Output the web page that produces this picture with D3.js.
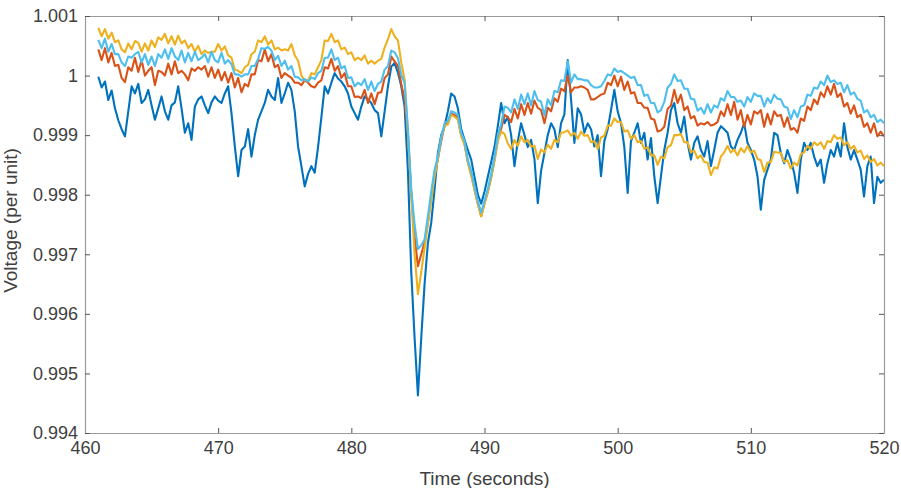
<!DOCTYPE html>
<html>
<head>
<meta charset="utf-8">
<script src="https://cdn.jsdelivr.net/npm/d3@7"></script>
<style>
  body { margin: 0; background: #fff; }
  text { font-family: "Liberation Sans", Arial, sans-serif; }
</style>
</head>
<body>
<svg id="voltage-chart"></svg>
<script>
////////////////////////////////////////////////////////////////////////////////
///////////////////////////////////////////////////////////////////// Chart data
////////////////////////////////////////////////////////////////////////////////

// samples every 0.25 s from 461 s to 520 s
const startTime = 461;
const sampleStep = 0.25;

// values are deviations from 1.0 pu, in units of 1e-5 pu (one group = one second)
const blueDev = [
  -2, -20, -10, -41,      -25, -55, -75, -90,     -102, -60, -18, -30,
  -14, -46, -40, -24,     -50, -74, -55, -35,     -60, -74, -50, -45,
  -18, -55, -96, -80,     -108, -52, -40, -35,    -50, -63, -45, -35,
  -42, -46, -30, -18,     -63, -119, -169, -125,  -119, -90, -136, -100,
  -74, -60, -46, -24,     -35, -41, -4, -46,      -30, -12, -24, -60,
  -119, -152, -186, -165, -152, -163, -120, -70,  -18, -30, -12, 4,
  -5, -10, -18, -30,      -52, -63, -74, -52,     -35, -40, -46, -58,
  -63, -102, -60, -18,    15, 21, 5, -18,         -52, -160, -330, -440,
  -537, -440, -350, -281, -247, -191, -130, -100, -85, -60, -30, -35,
  -55, -90, -108, -125,   -141, -170, -200, -215, -195, -170, -145, -120,
  -85, -46, -80, -69,     -100, -152, -110, -80,  -100, -120, -108, -140,
  -214, -160, -130, -100, -80, -90, -120, -80,    -65, 26, -40, -113,
  -55, -65, -96, -80,     -90, -119, -100, -169,  -110, -90, -58, -24,
  -60, -80, -120, -197,   -110, -96, -80, -113,   -96, -141, -105, -169,
  -214, -169, -125, -96,  -58, -46, -80, -96,     -69, -113, -141, -113,
  -102, -125, -136, -110, -152, -125, -96, -85,   -90, -96, -119, -125,
  -108, -96, -80, -113,   -125, -141, -169, -225, -175, -158, -141, -96,
  -100, -130, -147, -125, -141, -163, -197, -141, -113, -125, -113, -136,
  -152, -141, -180, -147, -125, -136, -113, -136, -80, -120, -141, -125,
  -141, -158, -203, -152, -136, -214, -170, -180, -175
];

const redDev = [
  44, 26, 46, 22,         38, 16, 18, -4,         -11, 14, 8, 30,
  6, 26, 0, 8,            14, -16, 8, 6,          0, 20, 2, 24,
  4, 8, 2, -8,            12, 8, 14, 10,          16, -2, 14, -4,
  10, -8, 6, -12,         4, -20, -4, -28,        -14, -18, 2, 2,
  26, 24, 44, 24,         36, 14, 18, -4,         4, 0, -4, -12,
  -12, -16, -8, -12,      -18, -20, -12, -8,      14, 12, 28, 8,
  16, -4, 4, -18,         -18, -36, -35, -38,     -24, -46, -30, -48,
  -29, -28, -4, 2,        32, 24, 16, -14,        -40, -100, -200, -270,
  -320, -300, -280, -245, -205, -165, -140, -110, -84, -80, -64, -66,
  -71, -100, -114, -145,  -165, -191, -215, -236, -214, -195, -170, -141,
  -106, -89, -66, -70,    -78, -56, -72, -48,     -66, -46, -64, -42,
  -54, -58, -80, -54,     -60, -38, -44, -22,     -26, 0, -28, -20,
  -20, -18, -20, -24,     -40, -40, -36, -32,     -30, -12, -16, 0,
  -18, -2, -24, -10,      -30, -28, -46, -46,     -54, -54, -72, -74,
  -94, -92, -86, -56,     -50, -24, -46, -32,     -58, -52, -72, -68,
  -84, -80, -82, -78,     -84, -82, -78, -60,     -68, -48, -66, -44,
  -74, -58, -86, -66,     -82, -60, -64, -58,     -86, -64, -82, -60,
  -68, -66, -86, -70,     -91, -88, -96, -72,     -76, -52, -58, -40,
  -48, -28, -36, -18,     -32, -14, -36, -30,     -52, -46, -64, -50,
  -70, -66, -86, -80,     -96, -80, -102, -94,    -102
];

const yellowDev = [
  80, 66, 78, 62,         72, 56, 59, 44,         39, 54, 44, 58,
  55, 40, 54, 42,         59, 48, 64, 60,         70, 54, 66, 52,
  67, 54, 59, 46,         53, 40, 50, 36,         42, 38, 40, 40,
  53, 42, 49, 34,         30, 10, 8, 4,           14, 18, 36, 40,
  59, 56, 66, 52,         59, 44, 47, 42,         44, 42, 53, 34,
  25, 0, -8, -8,          4, 2, 14, 26,           59, 58, 70, 56,
  59, 44, 47, 36,         39, 26, 30, 26,         34, 20, 25, 20,
  25, 28, 47, 61,         78, 66, 59, 22,         -7, -96, -200, -300,
  -367, -330, -290, -250, -210, -170, -140, -105, -84, -82, -66, -69,
  -74, -102, -116, -146,  -168, -192, -216, -236, -216, -196, -172, -144,
  -110, -94, -98, -114,   -123, -108, -118, -102, -112, -108, -119, -118,
  -140, -124, -129, -116, -123, -108, -112, -96,  -95, -92, -101, -96,
  -106, -94, -101, -100,  -112, -110, -123, -104, -101, -84, -84, -72,
  -78, -78, -94, -92,     -106, -100, -112, -110, -123, -120, -134, -134,
  -150, -136, -139, -120, -117, -100, -100, -98,  -112, -112, -129, -126,
  -139, -134, -145, -146, -167, -154, -156, -136, -129, -118, -129, -124,
  -134, -122, -129, -118, -129, -126, -140, -142, -162, -146, -145, -128,
  -129, -130, -145, -142, -156, -146, -151, -132, -129, -118, -123, -112,
  -117, -112, -123, -110, -112, -100, -106, -104, -117, -112, -123, -118,
  -129, -126, -140, -134, -145, -140, -151, -146, -152
];

const cyanDev = [
  60, 46, 62, 40,         53, 36, 36, 22,         16, 32, 30, 36,
  40, 22, 36, 18,         32, 16, 36, 30,         44, 28, 46, 32,
  26, 42, 22, 38,         24, 40, 26, 30,         36, 22, 40, 26,
  22, 38, 20, 26,         19, 2, 2, -2,           2, 2, 16, 16,
  28, 46, 45, 48,         42, 26, 33, 16,         25, 10, 16, -2,
  -3, -8, -6, -10,        -3, -6, 4, 8,           30, 30, 44, 26,
  30, 12, 16, -4,         -3, -18, -12, -16,      -6, -24, -10, -26,
  -14, -10, 10, 16,       42, 39, 29, 1,          -12, -90, -190, -250,
  -291, -285, -275, -236, -195, -158, -136, -105, -80, -76, -60, -62,
  -66, -96, -110, -142,   -160, -186, -210, -230, -210, -190, -165, -136,
  -100, -82, -52, -54,    -62, -40, -56, -32,     -48, -30, -50, -26,
  -41, -44, -67, -40,     -50, -26, -28, -8,      -9, 24, -12, 2,
  -6, -6, -8, -8,         -16, -20, -20, -18,     -9, 2, 0, 12,
  6, 8, 4, 0,             -4, -2, -16, -16,       -34, -32, -46, -46,
  -62, -58, -44, -20,     -14, 2, -9, -8,         -22, -22, -39, -40,
  -59, -54, -64, -48,     -62, -50, -54, -38,     -42, -26, -36, -36,
  -44, -42, -52, -36,     -44, -30, -34, -34,     -52, -38, -46, -32,
  -39, -40, -52, -54,     -73, -58, -70, -52,     -50, -32, -34, -20,
  -22, -10, -16, 0,       -11, -8, -14, -12,      -28, -16, -32, -28,
  -39, -42, -62, -58,     -70, -66, -78, -74,     -80
];

const seriesColors = ["#0072BD", "#D95319", "#EDB120", "#4DBEEE"];
const seriesDevs = [blueDev, redDev, yellowDev, cyanDev];

const xTicks = [460, 470, 480, 490, 500, 510, 520];
const yTicks = [0.994, 0.995, 0.996, 0.997, 0.998, 0.999, 1, 1.001];

////////////////////////////////////////////////////////////////////////////////
////////////////////////////////////////////////////////////////// Draw the plot
////////////////////////////////////////////////////////////////////////////////

const fullWidth = 901;
const fullHeight = 488;
const margin = { top: 16, right: 17, bottom: 55, left: 85 };
const width = fullWidth - margin.left - margin.right;
const height = fullHeight - margin.top - margin.bottom;

const svg = d3.select("#voltage-chart")
              .attr("width", fullWidth)
              .attr("height", fullHeight)
            .append("g")
              .attr("transform", `translate(${margin.left},${margin.top})`);

const xScale = d3.scaleLinear().domain([460, 520]).range([0, width]);
const yScale = d3.scaleLinear().domain([0.994, 1.001]).range([height, 0]);

// convert a stored deviation to per-unit voltage
function toPu(d) {
  return 1 + d * 1e-5;
}

// Lines
const line = d3.line()
               .x(function(d, i) { return xScale(startTime + i * sampleStep); })
               .y(function(d) { return yScale(toPu(d)); });

svg.selectAll(".line")
   .data(seriesDevs)
   .join("path")
     .attr("class", "line")
     .attr("fill", "none")
     .attr("stroke-width", 2.1)
     .attr("stroke-linejoin", "round")
     .attr("stroke", function(d, i) { return seriesColors[i]; })
     .attr("d", line);

// Axes (MATLAB style: box on, ticks inside)
const tickLen = 5;
const fontSize = "18px";

function styleAxis(g) {
  g.select(".domain").attr("stroke", "#9a9a9a").attr("stroke-width", 1.2);
  g.selectAll(".tick line").attr("stroke", "#555");
  g.selectAll(".tick text")
   .attr("fill", "#404040")
   .style("font-size", fontSize)
   .style("font-family", "'Liberation Sans', Arial, sans-serif");
}

svg.append("g")
   .attr("transform", `translate(0,${height})`)
   .call(d3.axisBottom(xScale).tickValues(xTicks).tickSizeInner(-tickLen)
           .tickSizeOuter(0).tickPadding(8).tickFormat(d3.format("d")))
   .call(styleAxis);

svg.append("g")
   .call(d3.axisTop(xScale).tickValues(xTicks).tickSizeInner(-tickLen)
           .tickSizeOuter(0).tickFormat(""))
   .call(styleAxis);

svg.append("g")
   .call(d3.axisLeft(yScale).tickValues(yTicks).tickSizeInner(-tickLen)
           .tickSizeOuter(0).tickPadding(7).tickFormat(function(d) {
             return d === 1 ? "1" : d3.format(".3f")(d);
           }))
   .call(styleAxis);

svg.append("g")
   .attr("transform", `translate(${width},0)`)
   .call(d3.axisRight(yScale).tickValues(yTicks).tickSizeInner(-tickLen)
           .tickSizeOuter(0).tickFormat(""))
   .call(styleAxis);

// Axis labels
svg.append("text")
   .attr("x", width / 2)
   .attr("y", height + 52)
   .attr("text-anchor", "middle")
   .attr("fill", "#404040")
   .style("font-size", "19px")
   .text("Time (seconds)");

svg.append("text")
   .attr("transform", "rotate(-90)")
   .attr("x", -height / 2 + 4)
   .attr("y", -68)
   .attr("text-anchor", "middle")
   .attr("fill", "#404040")
   .style("font-size", "19px")
   .text("Voltage (per unit)");
</script>
</body>
</html>
